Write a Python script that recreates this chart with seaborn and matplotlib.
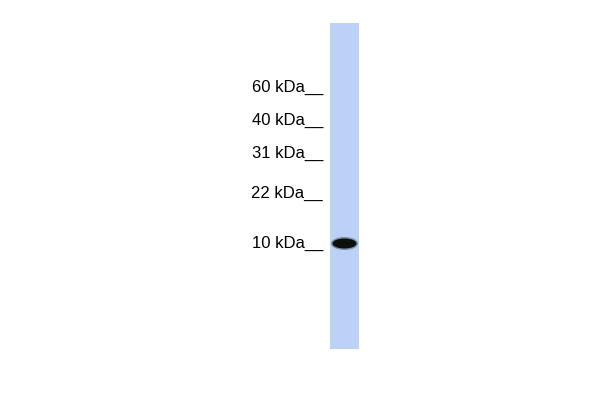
import matplotlib
matplotlib.use("Agg")
import matplotlib.pyplot as plt
import seaborn as sns
from matplotlib.patches import Ellipse

# =========================
# DATA (read from the blot)
# =========================
marker_labels = ["60 kDa", "40 kDa", "31 kDa", "22 kDa", "10 kDa"]
marker_y = [92, 125, 158, 198, 248]      # baseline of each label, image px
lane_x = [330, 359]                      # lane edges
lane_y = [23, 349]                       # lane top / bottom
band_center = [344.5, 243.5]             # strong band near 10 kDa
band_size = [24, 10]

sns.set_theme(style="white")
plt.rcParams["font.family"] = ["Liberation Sans", "DejaVu Sans"]

fig = plt.figure(figsize=(6, 4), dpi=100)
ax = fig.add_axes([0, 0, 1, 1])
ax.set_xlim(0, 600)
ax.set_ylim(400, 0)
ax.axis("off")

# lane
ax.bar(
    (lane_x[0] + lane_x[1]) / 2,
    lane_y[1] - lane_y[0],
    width=lane_x[1] - lane_x[0],
    bottom=lane_y[0],
    color="#bbd1f6",
    edgecolor="none",
)

# band (soft edge + dark core)
ax.add_patch(Ellipse(band_center, band_size[0] + 3, band_size[1] + 3,
                     facecolor="#0c100c", edgecolor="none", alpha=0.35))
ax.add_patch(Ellipse(band_center, band_size[0], band_size[1],
                     facecolor="#0c100c", edgecolor="none"))

# marker labels
for lab, y in zip(marker_labels, marker_y):
    ax.text(323, y, lab + "__", ha="right", va="baseline",
            fontsize=12, color="black")

fig.savefig("out.png", dpi=100)
